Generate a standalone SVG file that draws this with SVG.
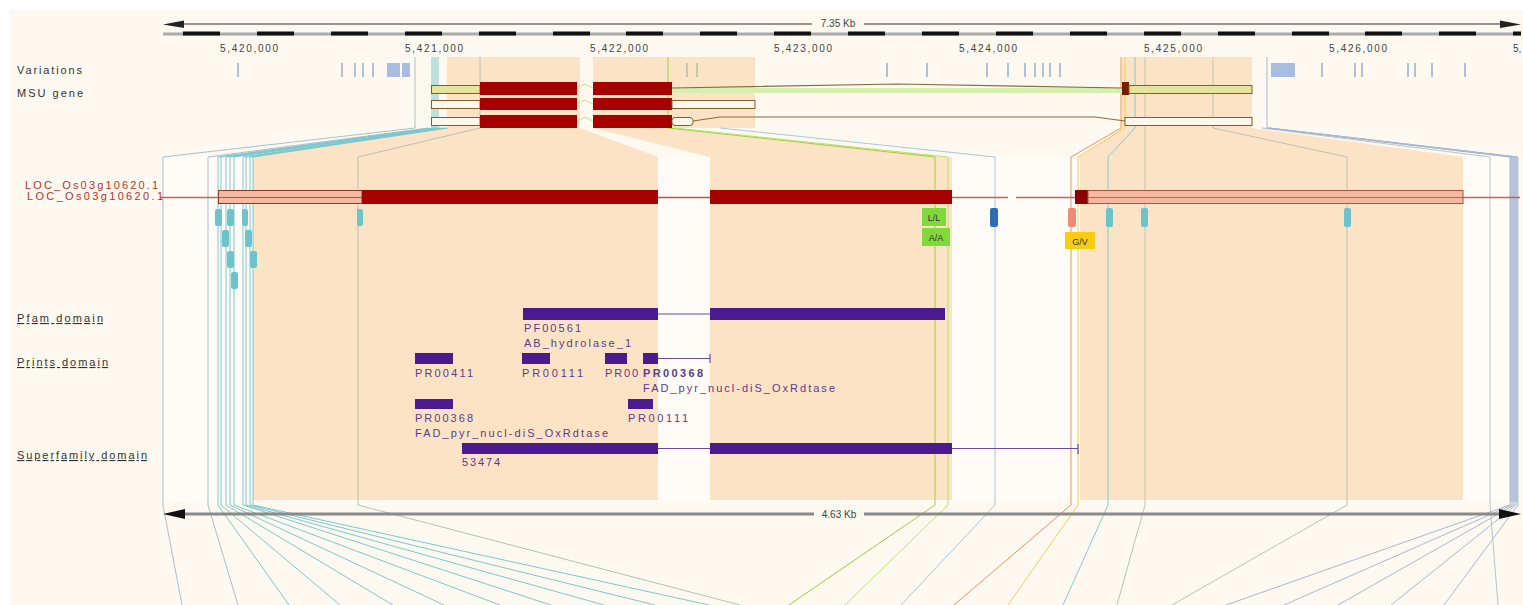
<svg xmlns="http://www.w3.org/2000/svg" width="1523" height="605" viewBox="0 0 1523 605">
<style>
.lbl{font-family:"Liberation Sans",Arial,sans-serif;font-size:11px;fill:#333}
.tick{font-family:"Liberation Sans",Arial,sans-serif;font-size:10px;fill:#444}
.dom{font-family:"Liberation Sans",Arial,sans-serif;font-size:11px;fill:#5b3b8c}
.loc{font-family:"Liberation Sans",Arial,sans-serif;font-size:11px;fill:#b8322a}
.snp{font-family:"Liberation Sans",Arial,sans-serif;font-size:9px;fill:#333;text-anchor:middle}
.peach{fill:#fde3c5}
.var{stroke:#97acd0;stroke-width:1.5}
.cds{fill:#a70000}
.utr{fill:#fff7ec;stroke:#8b5a2b;stroke-width:1}
.utrg{fill:#e6e49c;stroke:#8b5a2b;stroke-width:1}
.intron{fill:none;stroke:#8b6a3b;stroke-width:1.2}
.con{fill:none;stroke-width:1}
.teal{fill:#6cc3cc}
.pbar{fill:#4a1a8e}
.pline{stroke:#6a4aa8;stroke-width:1.2}
</style>
<rect width="1523" height="605" fill="#ffffff"/>
<rect x="10" y="10" width="1513" height="595" fill="#fdf9f1"/>
<rect x="163" y="157" width="1358" height="345" fill="#fffcf7"/>

<g id="peach-regions">
<polygon class="peach" points="447,57 580,57 580,128 658,157 658,500 253,500 253,157 447,128"/>
<polygon class="peach" points="593,57 755,57 755,128 672,128 948,157 952,157 952,500 710,500 710,157 593,128"/>
<polygon class="peach" points="1122,57 1252,57 1252,128 1463,157 1463,500 1080,500 1080,157 1122,128"/>
<rect x="1510" y="157" width="8" height="345" fill="#c4cfe0"/>
</g>

<g id="ruler-top">
<line x1="180" y1="24" x2="1505" y2="24" stroke="#333" stroke-width="1"/>
<polygon points="163,24.5 184,20.5 184,28" fill="#222"/>
<polygon points="1521,24.5 1500,20.5 1500,28" fill="#222"/>
<rect x="812" y="17" width="52" height="12" fill="#fdf9f1"/>
<text class="tick" x="838" y="27" text-anchor="middle">7.35 Kb</text>
<rect x="163" y="32.5" width="1358" height="3" fill="#aaaaaa"/>
<g fill="#111">
<rect x="183" y="31.5" width="37" height="4"/><rect x="257" y="31.5" width="37" height="4"/><rect x="331" y="31.5" width="37" height="4"/><rect x="405" y="31.5" width="37" height="4"/><rect x="479" y="31.5" width="37" height="4"/><rect x="553" y="31.5" width="37" height="4"/><rect x="626" y="31.5" width="37" height="4"/><rect x="700" y="31.5" width="37" height="4"/><rect x="774" y="31.5" width="37" height="4"/><rect x="848" y="31.5" width="37" height="4"/><rect x="922" y="31.5" width="37" height="4"/><rect x="996" y="31.5" width="37" height="4"/><rect x="1070" y="31.5" width="37" height="4"/><rect x="1144" y="31.5" width="37" height="4"/><rect x="1218" y="31.5" width="37" height="4"/><rect x="1292" y="31.5" width="37" height="4"/><rect x="1365" y="31.5" width="37" height="4"/><rect x="1439" y="31.5" width="37" height="4"/><rect x="1513" y="31.5" width="8" height="4"/>
</g>
<text class="tick" x="220" y="52" textLength="58" lengthAdjust="spacing">5,420,000</text>
<text class="tick" x="405" y="52" textLength="58" lengthAdjust="spacing">5,421,000</text>
<text class="tick" x="590" y="52" textLength="58" lengthAdjust="spacing">5,422,000</text>
<text class="tick" x="774" y="52" textLength="58" lengthAdjust="spacing">5,423,000</text>
<text class="tick" x="959" y="52" textLength="58" lengthAdjust="spacing">5,424,000</text>
<text class="tick" x="1144" y="52" textLength="58" lengthAdjust="spacing">5,425,000</text>
<text class="tick" x="1329" y="52" textLength="58" lengthAdjust="spacing">5,426,000</text>
<text class="tick" x="1513" y="52">5,</text>
</g>

<g id="track-labels">
<text class="lbl" x="17" y="74" textLength="65" lengthAdjust="spacing">Variations</text>
<text class="lbl" x="17" y="97" textLength="66" lengthAdjust="spacing">MSU gene</text>
<text class="lbl" x="17" y="322" textLength="86" lengthAdjust="spacing" text-decoration="underline">Pfam domain</text>
<text class="lbl" x="17" y="366" textLength="91" lengthAdjust="spacing" text-decoration="underline">Prints domain</text>
<text class="lbl" x="17" y="459" textLength="130" lengthAdjust="spacing" text-decoration="underline">Superfamily domain</text>
</g>

<g id="connectors">
<polyline class="con" stroke="#a9bfcc" points="415,57 415,128 163,157 163,505 182,605"/>
<polyline class="con" stroke="#a9bfcc" points="428,128 208,157 208,505 238,605"/>
<polyline class="con" stroke="#7cc8cc" points="432,57 432,128 218,157 218,505 289,605"/>
<polyline class="con" stroke="#7cc8cc" points="434,57 434,128 221,157 221,505 340,605"/>
<polyline class="con" stroke="#7cc8cc" points="436,57 436,128 226,157 226,505 393,605"/>
<polyline class="con" stroke="#7cc8cc" points="438,57 438,128 230,157 230,505 444,605"/>
<polyline class="con" stroke="#7cc8cc" points="440,128 234,157 234,505 500,605"/>
<polyline class="con" stroke="#7cc8cc" points="442,128 243,157 243,505 551,605"/>
<polyline class="con" stroke="#7cc8cc" points="444,128 246,157 246,505 604,605"/>
<polyline class="con" stroke="#7cc8cc" points="446,128 250,157 250,505 655,605"/>
<polyline class="con" stroke="#7cc8cc" points="448,128 253,157 253,505 709,605"/>
<polyline class="con" stroke="#b5c0b5" points="480,57 480,128 358,157 358,505 740,605"/>
<polyline class="con" stroke="#9ccf3c" stroke-width="1.5" points="668,57 668,128 935,157 935,505 789,605"/>
<polyline class="con" stroke="#b8e070" points="675,128 948,157 948,505 845,605"/>
<polyline class="con" stroke="#a8c8d8" points="720,128 995,157 995,505 901,605"/>
<polyline class="con" stroke="#f09060" stroke-width="1.5" points="1121,57 1121,128 1071,157 1071,505 954,605"/>
<polyline class="con" stroke="#f0d050" stroke-width="1.5" points="1125,57 1125,128 1078,157 1078,505 1008,605"/>
<polyline class="con" stroke="#88c8cc" points="1135,57 1135,128 1108,157 1108,505 1063,605"/>
<polyline class="con" stroke="#b8c4b8" points="1145,57 1145,128 1145,157 1145,505 1117,605"/>
<polyline class="con" stroke="#b8c4b8" points="1213,57 1213,128 1347,157 1347,505 1172,605"/>
<polyline class="con" stroke="#b8c4c8" points="1262,128 1490,157 1490,505 1498,605"/>
<polyline class="con" stroke="#a8b8d0" points="1267,57 1267,128 1510,157 1510,505 1226,605"/>
<polyline class="con" stroke="#a8b8d0" points="1267,128 1512,157 1512,505 1284,605"/>
<polyline class="con" stroke="#a8b8d0" points="1268,128 1514,157 1514,505 1338,605"/>
<polyline class="con" stroke="#a8b8d0" points="1269,128 1516,157 1516,505 1391,605"/>
<polyline class="con" stroke="#a8b8d0" points="1270,128 1518,157 1518,505 1444,605"/>
</g>

<g id="variations">
<line class="var" x1="238" y1="63" x2="238" y2="77"/>
<line class="var" x1="342" y1="63" x2="342" y2="77"/>
<line class="var" x1="355" y1="63" x2="355" y2="77"/>
<line class="var" x1="363" y1="63" x2="363" y2="77"/>
<line class="var" x1="373" y1="63" x2="373" y2="77"/>
<rect x="387" y="63" width="13" height="14" fill="#a9bde2"/>
<rect x="402" y="63" width="8" height="14" fill="#a9bde2"/>
<line x1="687" y1="63" x2="687" y2="77" stroke="#a8c0a8" stroke-width="1.5"/>
<line x1="697" y1="63" x2="697" y2="77" stroke="#a8c0a8" stroke-width="1.5"/>
<line class="var" x1="887" y1="63" x2="887" y2="77"/>
<line class="var" x1="927" y1="63" x2="927" y2="77"/>
<line class="var" x1="987" y1="63" x2="987" y2="77"/>
<line class="var" x1="1008" y1="63" x2="1008" y2="77"/>
<line class="var" x1="1025" y1="63" x2="1025" y2="77"/>
<line class="var" x1="1035" y1="63" x2="1035" y2="77"/>
<line class="var" x1="1043" y1="63" x2="1043" y2="77"/>
<line class="var" x1="1050" y1="63" x2="1050" y2="77"/>
<line class="var" x1="1060" y1="63" x2="1060" y2="77"/>
<rect x="1271" y="63" width="24" height="14" fill="#a9bde2"/>
<line class="var" x1="1322" y1="63" x2="1322" y2="77"/>
<line class="var" x1="1355" y1="63" x2="1355" y2="77"/>
<line class="var" x1="1362" y1="63" x2="1362" y2="77"/>
<line class="var" x1="1408" y1="63" x2="1408" y2="77"/>
<line class="var" x1="1415" y1="63" x2="1415" y2="77"/>
<line class="var" x1="1432" y1="63" x2="1432" y2="77"/>
<line class="var" x1="1465" y1="63" x2="1465" y2="77"/>
</g>

<g id="msu-gene">
<g id="msu-row1">
<rect x="672" y="88" width="450" height="5" fill="#d6efb0"/>
<polyline class="intron" points="672,88 897,84 1122,88"/>
<polyline fill="none" stroke="#c8e8a8" stroke-width="1.2" points="577,88 585,84 593,88"/>
<rect class="utrg" x="431.5" y="85.5" width="48.5" height="8"/>
<rect class="cds" x="480" y="82" width="97" height="13"/>
<rect class="cds" x="593" y="82" width="79" height="13"/>
<rect x="1122" y="82" width="7" height="13" fill="#7a1a00"/>
<rect class="utrg" x="1129" y="85.5" width="123" height="8"/>
</g>
<g id="msu-row2">
<polyline fill="none" stroke="#c8e8a8" stroke-width="1.2" points="577,104 585,100 593,104"/>
<rect class="utr" x="431.5" y="100.5" width="48.5" height="8"/>
<rect class="cds" x="480" y="98" width="97" height="12"/>
<rect class="cds" x="593" y="98" width="79" height="12"/>
<rect class="utr" x="672" y="100.5" width="83" height="8"/>
</g>
<g id="msu-row3">
<polyline class="intron" points="693,121 720,117 1095,117 1125,121"/>
<polyline fill="none" stroke="#c8e8a8" stroke-width="1.2" points="577,121 585,117 593,121"/>
<rect class="utr" x="431.5" y="117.5" width="48.5" height="8"/>
<rect class="cds" x="480" y="115" width="97" height="13"/>
<rect class="cds" x="593" y="115" width="79" height="13"/>
<rect class="utr" x="672" y="117.5" width="21" height="8" rx="3"/>
<rect class="utr" x="1125" y="117.5" width="127" height="8"/>
</g>
</g>

<g id="transcript">
<line x1="160" y1="197.5" x2="1008" y2="197.5" stroke="#c9605a" stroke-width="1.5"/>
<line x1="1016" y1="197.5" x2="1520" y2="197.5" stroke="#c9605a" stroke-width="1.5"/>
<text class="loc" x="25" y="189" textLength="133" lengthAdjust="spacing">LOC_Os03g10620.1</text>
<text class="loc" x="27" y="200" textLength="136" lengthAdjust="spacing">LOC_Os03g10620.1</text>
<rect x="218.5" y="190.5" width="143.5" height="13" fill="#f5b9a2" stroke="#8b3a2a"/>
<line x1="218" y1="197.5" x2="362" y2="197.5" stroke="#b0503e"/>
<rect class="cds" x="362" y="190" width="296" height="14"/>
<line x1="658" y1="197.5" x2="710" y2="197.5" stroke="#b0504a"/>
<rect class="cds" x="710" y="190" width="242" height="14"/>
<rect x="1075" y="190" width="13" height="14" fill="#8b0000"/>
<rect x="1088" y="190.5" width="375" height="13" fill="#f5b9a2" stroke="#b05040"/>
<line x1="1088" y1="197.5" x2="1463" y2="197.5" stroke="#c06050"/>
</g>

<g id="markers">
<rect class="teal" x="215" y="209" width="7" height="17" rx="2"/>
<rect class="teal" x="227" y="209" width="7" height="17" rx="2"/>
<rect class="teal" x="242" y="209" width="6" height="17" rx="2"/>
<rect class="teal" x="357" y="209" width="6" height="17" rx="2"/>
<rect class="teal" x="222" y="230" width="7" height="17" rx="2"/>
<rect class="teal" x="245" y="230" width="7" height="17" rx="2"/>
<rect class="teal" x="227" y="251" width="7" height="17" rx="2"/>
<rect class="teal" x="250" y="251" width="7" height="17" rx="2"/>
<rect class="teal" x="231" y="272" width="7" height="17" rx="2"/>
<rect x="922" y="208" width="24" height="18" fill="#80d83a"/>
<text class="snp" x="934" y="221">L/L</text>
<rect x="922" y="228" width="28" height="18" fill="#80d83a"/>
<text class="snp" x="936" y="241">A/A</text>
<rect x="990" y="208" width="8" height="19" rx="2" fill="#2f6db5"/>
<rect x="1068" y="208" width="8" height="19" rx="2" fill="#f08a70"/>
<rect x="1065" y="232" width="30" height="17" fill="#f8cc10"/>
<text class="snp" x="1080" y="245">G/V</text>
<rect class="teal" x="1106" y="208" width="7" height="19" rx="2"/>
<rect class="teal" x="1141" y="208" width="7" height="19" rx="2"/>
<rect class="teal" x="1344" y="208" width="7" height="19" rx="2"/>
</g>

<g id="pfam-domain">
<line class="pline" x1="658" y1="314" x2="710" y2="314"/>
<rect class="pbar" x="523" y="308" width="135" height="12"/>
<rect class="pbar" x="710" y="308" width="235" height="12"/>
<text class="dom" x="524" y="332" textLength="57" lengthAdjust="spacing">PF00561</text>
<text class="dom" x="524" y="347" textLength="107" lengthAdjust="spacing">AB_hydrolase_1</text>
</g>

<g id="prints-domain">
<rect class="pbar" x="415" y="353" width="38" height="11"/>
<text class="dom" x="415" y="377" textLength="58" lengthAdjust="spacing">PR00411</text>
<rect class="pbar" x="522" y="353" width="28" height="11"/>
<text class="dom" x="522" y="377" textLength="61" lengthAdjust="spacing">PR00111</text>
<rect class="pbar" x="605" y="353" width="22" height="11"/>
<text class="dom" x="605" y="377" textLength="33" lengthAdjust="spacing">PR00</text>
<rect class="pbar" x="643" y="353" width="15" height="11"/>
<line class="pline" x1="658" y1="358.5" x2="710" y2="358.5"/>
<line class="pline" x1="710" y1="354" x2="710" y2="363"/>
<text class="dom" x="643" y="377" textLength="60" lengthAdjust="spacing" font-weight="bold">PR00368</text>
<text class="dom" x="643" y="392" textLength="192" lengthAdjust="spacing">FAD_pyr_nucl-diS_OxRdtase</text>
<rect class="pbar" x="415" y="399" width="38" height="10"/>
<text class="dom" x="415" y="422" textLength="58" lengthAdjust="spacing">PR00368</text>
<text class="dom" x="415" y="437" textLength="193" lengthAdjust="spacing">FAD_pyr_nucl-diS_OxRdtase</text>
<rect class="pbar" x="628" y="399" width="25" height="10"/>
<text class="dom" x="628" y="422" textLength="60" lengthAdjust="spacing">PR00111</text>
</g>

<g id="superfamily-domain">
<line class="pline" x1="658" y1="448.5" x2="710" y2="448.5"/>
<line class="pline" x1="952" y1="448.5" x2="1078" y2="448.5"/>
<line class="pline" x1="1078" y1="444" x2="1078" y2="454"/>
<rect class="pbar" x="462" y="443" width="196" height="11"/>
<rect class="pbar" x="710" y="443" width="242" height="11"/>
<text class="dom" x="462" y="466" textLength="38" lengthAdjust="spacing">53474</text>
</g>

<g id="ruler-bottom">
<line x1="180" y1="514" x2="1505" y2="514" stroke="#8a8a8a" stroke-width="3"/>
<polygon points="163,514 185,509 185,519" fill="#111"/>
<polygon points="1521,514 1499,509 1499,519" fill="#111"/>
<rect x="814" y="507" width="50" height="13" fill="#fdf9f1"/>
<text class="tick" x="839" y="518" text-anchor="middle">4.63 Kb</text>
</g>
</svg>
